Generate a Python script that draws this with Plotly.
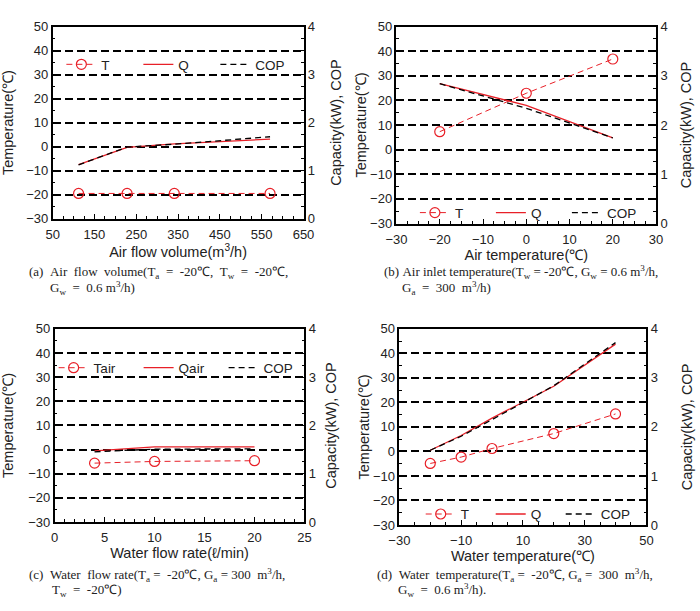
import plotly.graph_objects as go

# ---------------- data ----------------
# (a) air flow volume
air_flow = [112, 228, 341, 570]
T_a = [-19.5, -19.5, -19.5, -19.5]
Q_a = [1.125, 1.485, 1.555, 1.655]
COP_a = [1.12, 1.49, 1.55, 1.705]

# (b) air inlet temperature
air_temp = [-20, 0, 20]
T_b = [7.3, 22.9, 36.8]
Q_b = [2.84, 2.40, 1.74]
COP_b = [2.84, 2.34, 1.74]

# (c) water flow rate
water_flow = [4, 10, 20]
T_c = [-5.6, -4.9, -4.6]
Q_c = [1.475, 1.555, 1.555]
COP_c = [1.455, 1.51, 1.515]

# (d) water temperature
water_temp = [-20, -10, 0, 20, 40]
T_d = [-4.9, -2.3, 1.2, 7.3, 15.3]
Q_d = [1.525, 1.825, 2.18, 2.83, 3.69]
COP_d = [1.525, 1.81, 2.15, 2.84, 3.72]

left_ticks = [-30, -20, -10, 0, 10, 20, 30, 40, 50]
right_ticks = [0, 1, 2, 3, 4]

names = {
    "a": ["T", "Q", "COP"],
    "b": ["T", "Q", "COP"],
    "c": ["Tair", "Qair", "COP"],
    "d": ["T", "Q", "COP"],
}

x_titles = {
    "a": "Air flow volume(m<sup>3</sup>/h)",
    "b": "Air temperature(℃)",
    "c": "Water flow rate(ℓ/min)",
    "d": "Water temperature(℃)",
}

S1 = "\u00a0"
S2 = "\u00a0\u00a0"
captions = {
    "a": [f"(a){S2}Air{S2}flow{S2}volume(T<sub>a</sub>{S2}={S2}-20℃,{S2}T<sub>w</sub>{S2}={S2}-20℃,",
          f"G<sub>w</sub>{S2}={S2}0.6 m<sup>3</sup>/h)"],
    "b": [f"(b){S1}Air{S1}inlet{S1}temperature(T<sub>w</sub>{S1}={S1}-20℃,{S1}G<sub>w</sub>{S1}={S1}0.6 m<sup>3</sup>/h,",
          f"G<sub>a</sub>{S2}={S2}300{S2}m<sup>3</sup>/h)"],
    "c": [f"(c){S2}Water{S2}flow{S1}rate(T<sub>a</sub>{S1}={S2}-20℃,{S1}G<sub>a</sub>{S1}={S1}300{S2}m<sup>3</sup>/h,",
          f"T<sub>w</sub>{S2}={S2}-20℃)"],
    "d": [f"(d){S2}Water{S2}temperature(T<sub>a</sub>{S1}={S2}-20℃,{S1}G<sub>a</sub>{S1}={S2}300{S2}m<sup>3</sup>/h,",
          f"G<sub>w</sub>{S2}={S2}0.6 m<sup>3</sup>/h)."],
}

# ---------------- layout geometry (pixels) ----------------
W, H = 700, 611
RED = "rgb(232,32,40)"
panels = {
    "a": dict(px=(43, 302), py=(20, 217), xr=[50, 650], dt=100, mdt=25, x=air_flow, T=T_a, Q=Q_a, C=COP_a,
              leg=(52, 59), entry=32, lso=15, rso=17, cap=((17, 272), (38, 288))),
    "b": dict(px=(398, 666), py=(20, 222), xr=[-30, 30], dt=10, mdt=2.5, x=air_temp, T=T_b, Q=Q_b, C=COP_b,
              leg=(417, 211), entry=31, lso=0, rso=14, cap=((383, 272), (402, 288))),
    "c": dict(px=(45, 303), py=(330, 528), xr=[0, 25], dt=5, mdt=1, x=water_flow, T=T_c, Q=Q_c, C=COP_c,
              leg=(44, 370), entry=40, lso=15, rso=11, cap=((17, 582), (40, 598))),
    "d": dict(px=(401, 656), py=(330, 531), xr=[-30, 50], dt=20, mdt=5, x=water_temp, T=T_d, Q=Q_d, C=COP_d,
              leg=(423, 520), entry=25, lso=0, rso=25, cap=((376, 582), (398, 598))),
}

FONT = "Liberation Sans, Arial, sans-serif"
SERIF = "Liberation Serif, Times New Roman, serif"
TXT = "#222"

fig = go.Figure()
layout = dict(
    width=W, height=H, margin=dict(l=0, r=0, t=0, b=0),
    paper_bgcolor="white", plot_bgcolor="white",
    font=dict(family=FONT, size=13, color=TXT),
    annotations=[],
)

for i, key in enumerate(["a", "b", "c", "d"]):
    p = panels[key]
    n = i + 1
    xa = "x" if n == 1 else f"x{n}"
    yl = "y" if n == 1 else f"y{n}"
    yr = f"y{n + 4}"
    leg = "legend" if n == 1 else f"legend{n}"
    nm = names[key]

    fig.add_trace(go.Scatter(
        x=p["x"], y=p["T"], xaxis=xa, yaxis=yl, name=nm[0], legend=leg,
        mode="lines+markers",
        line=dict(color=RED, width=1, dash="6px,4px"),
        marker=dict(symbol="circle-open", size=10, color=RED, line=dict(width=1.2, color=RED)),
    ))
    fig.add_trace(go.Scatter(
        x=p["x"], y=p["Q"], xaxis=xa, yaxis=yr, name=nm[1], legend=leg,
        mode="lines", line=dict(color=RED, width=1.3),
    ))
    fig.add_trace(go.Scatter(
        x=p["x"], y=p["C"], xaxis=xa, yaxis=yr, name=nm[2], legend=leg,
        mode="lines", line=dict(color="black", width=1.3, dash="6px,4px"),
    ))

    xd = [p["px"][0] / W, p["px"][1] / W]
    yd = [1 - p["py"][1] / H, 1 - p["py"][0] / H]

    layout[f"xaxis{'' if n == 1 else n}"] = dict(
        domain=xd, anchor=yl, range=p["xr"], dtick=p["dt"], tick0=p["xr"][0],
        showgrid=False, zeroline=False,
        showline=True, linecolor="black", linewidth=1.5, mirror=True,
        ticks="inside", ticklen=5, tickcolor="black", tickwidth=1,
        ticklabelstandoff=3,
        minor=dict(ticks="inside", dtick=p["mdt"], ticklen=3, tickcolor="black", showgrid=False),
        tickfont=dict(size=13, family=FONT, color=TXT),
        title=dict(text=x_titles[key], font=dict(size=14.5, family=FONT, color=TXT), standoff=3),
    )
    layout[f"yaxis{'' if n == 1 else n}"] = dict(
        domain=yd, anchor=xa, range=[-30, 50], tickvals=left_ticks,
        showgrid=True, gridcolor="black", gridwidth=2, griddash="8px,4px",
        zeroline=False,
        showline=True, linecolor="black", linewidth=1.5,
        ticks="inside", ticklen=5, tickcolor="black",
        minor=dict(ticks="inside", dtick=5, ticklen=3, tickcolor="black", showgrid=False),
        tickfont=dict(size=13, family=FONT, color=TXT),
        title=dict(text="Temperature(℃)", font=dict(size=14.5, family=FONT, color=TXT), standoff=p["lso"]),
    )
    layout[f"yaxis{n + 4}"] = dict(
        domain=yd, anchor=xa, overlaying=yl, side="right", range=[0, 4], tickvals=right_ticks,
        showgrid=False, zeroline=False,
        showline=True, linecolor="black", linewidth=1.5,
        ticks="inside", ticklen=5, tickcolor="black",
        minor=dict(ticks="inside", dtick=0.25, ticklen=3, tickcolor="black", showgrid=False),
        tickfont=dict(size=13, family=FONT, color=TXT),
        title=dict(text="Capacity(kW), COP", font=dict(size=14.5, family=FONT, color=TXT), standoff=p["rso"]),
    )
    layout[leg] = dict(
        orientation="h", x=p["leg"][0] / W, y=1 - p["leg"][1] / H,
        xanchor="left", yanchor="middle", bgcolor="rgba(0,0,0,0)",
        font=dict(size=13.5, family=FONT, color=TXT),
        entrywidth=p["entry"], entrywidthmode="pixels", traceorder="normal",
        itemclick=False,
    )
    for (cx, cy), txt in zip(p["cap"], captions[key]):
        layout["annotations"].append(dict(
            text=txt, x=cx / W, y=1 - cy / H, xref="paper", yref="paper",
            xanchor="left", yanchor="middle", showarrow=False,
            font=dict(size=13, family=SERIF, color=TXT),
        ))

fig.update_layout(**layout)
fig.write_html("out.html")
